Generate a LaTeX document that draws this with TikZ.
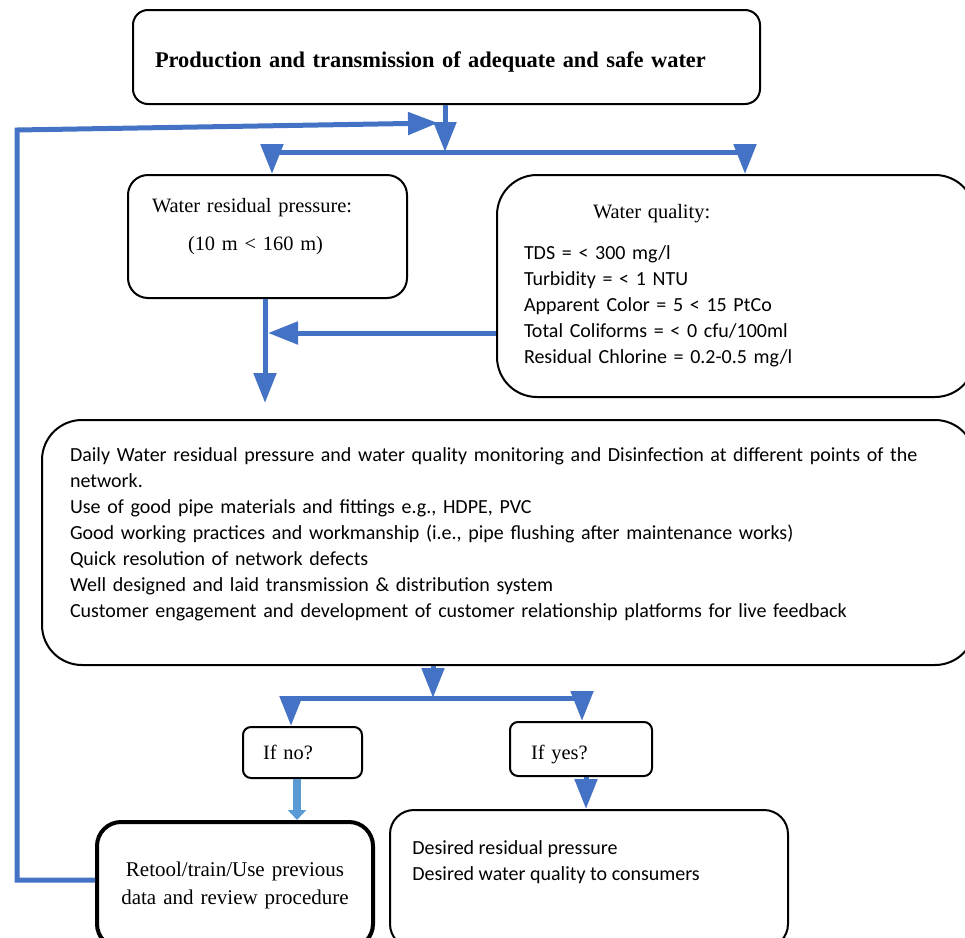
\documentclass[tikz,border=0pt]{standalone}
\usepackage{fontspec}
\setmainfont{Liberation Serif}
\newfontfamily\calibri{Carlito}
\usetikzlibrary{arrows.meta}
\definecolor{flowblue}{HTML}{4472C4}
\definecolor{paleblue}{HTML}{5B9BD5}
\tikzstyle{box}=[draw, line width=1pt, align=left]
\tikzstyle{serif}=[font=\fontsize{10.2}{12}\selectfont]
\tikzstyle{sans}=[font=\calibri\fontsize{10}{13}\selectfont]
\tikzstyle{link}=[line width=2.5pt, flowblue]
\tikzstyle{flow}=[link, -{Triangle[width=11pt,length=15pt]}]
\tikzstyle{smallflow}=[line width=4pt, paleblue, -{Triangle[width=9pt,length=5pt]}]

\begin{document}
\begin{tikzpicture}[x=0.5pt,y=-0.5pt]
\useasboundingbox (0,0) rectangle (965,938);
\clip (0,0) rectangle (965,938);

% boxes
\node[box, rounded corners=7.5pt, minimum height=47pt, text width=291.5pt, inner xsep=11pt, text height=12.5pt,
  font=\bfseries\fontsize{11.2}{12}\selectfont] (prod) at (446.5,57)
  {Production and transmission of adequate and safe water};
\node[box, serif, rounded corners=10pt, minimum height=61.5pt, text width=115.5pt, inner xsep=12pt, text depth=31pt] (press) at (267.5,236.5)
  {Water residual pressure:\\[7pt]\hspace*{18pt}(10 m < 160 m)};
\node[box, sans, rounded corners=20pt, minimum height=111pt, text width=212pt, inner xsep=13.5pt] (qual) at (736,286)
  {{\rmfamily\fontsize{10.2}{12}\selectfont\hspace*{34.5pt}Water quality:}\\[7.5pt]
   TDS = < 300 mg/l\\
   Turbidity = < 1 NTU\\
   Apparent Color = 5 < 15 PtCo\\
   Total Coliforms = < 0 cfu/100ml\\
   Residual Chlorine = 0.2-0.5 mg/l};
\node[box, sans, rounded corners=20pt, minimum height=122.5pt, text width=438.5pt, inner xsep=14pt, text depth=88pt] (mon) at (508.5,542.5)
  {Daily Water residual pressure and water quality monitoring and Disinfection at different points of the\\
   network.\\
   Use of good pipe materials and fittings e.g., HDPE, PVC\\
   Good working practices and workmanship (i.e., pipe flushing after maintenance works)\\
   Quick resolution of network defects\\
   Well designed and laid transmission \& distribution system\\
   Customer engagement and development of customer relationship platforms for live feedback};
\node[box, serif, rounded corners=4pt, minimum height=25.5pt, text width=39.5pt, inner xsep=10pt] (ifno) at (302.5,752.5) {If no?};
\node[box, serif, rounded corners=4pt, minimum height=27pt, text width=50pt, inner xsep=10.5pt, text height=13pt] (ifyes) at (581,749) {If yes?};
\node[box, serif, line width=2pt, align=center, font=\fontsize{10.5}{14}\selectfont, rounded corners=12pt,
  minimum height=63pt, text width=124pt, inner xsep=7pt] (retool) at (235,885)
  {Retool/train/Use previous\\data and review procedure};
\node[box, rounded corners=12pt, minimum width=199pt, minimum height=69pt] (desired) at (589,879) {};
\node[sans, align=left, inner sep=0pt, anchor=north west] (desiredtxt) at (412,840)
  {Desired residual pressure\\Desired water quality to consumers};

% connectors
\coordinate (fork) at (445,152);
\coordinate (forkL) at (272,152);
\coordinate (forkR) at (745,152);
\draw[flow] (prod.south -| fork) -- (fork);
\draw[link] (forkL) -- (forkR);
\draw[flow] (forkL) -- (forkL |- press.north);
\draw[flow] (forkR) -- (forkR |- qual.north);

\coordinate (loopB) at (17,880);
\coordinate (loop) at (17,130);
\coordinate (loopend) at (438,123);
\draw[flow] (retool.west |- loopB) -- (loopB) -- (loop) -- (loopend);

\coordinate (drop) at (265,403);
\coordinate (joinQ) at (268,333);
\draw[flow] (press.south -| drop) -- (drop);
\draw[flow] (joinQ -| qual.west) -- (joinQ);

\coordinate (fork2) at (433,698);
\coordinate (fork2L) at (291,698);
\coordinate (fork2R) at (582,698);
\draw[flow] (mon.south -| fork2) -- (fork2);
\draw[link] (fork2L) -- (fork2R);
\draw[flow] (fork2L) -- (fork2L |- ifno.north);
\draw[flow] (fork2R) -- (fork2R |- ifyes.north);

\draw[smallflow] (ifno.south -| 297,0) -- (297,0 |- retool.north);
\draw[flow] (ifyes.south -| 586,0) -- (586,0 |- desired.north);
\end{tikzpicture}
\end{document}
